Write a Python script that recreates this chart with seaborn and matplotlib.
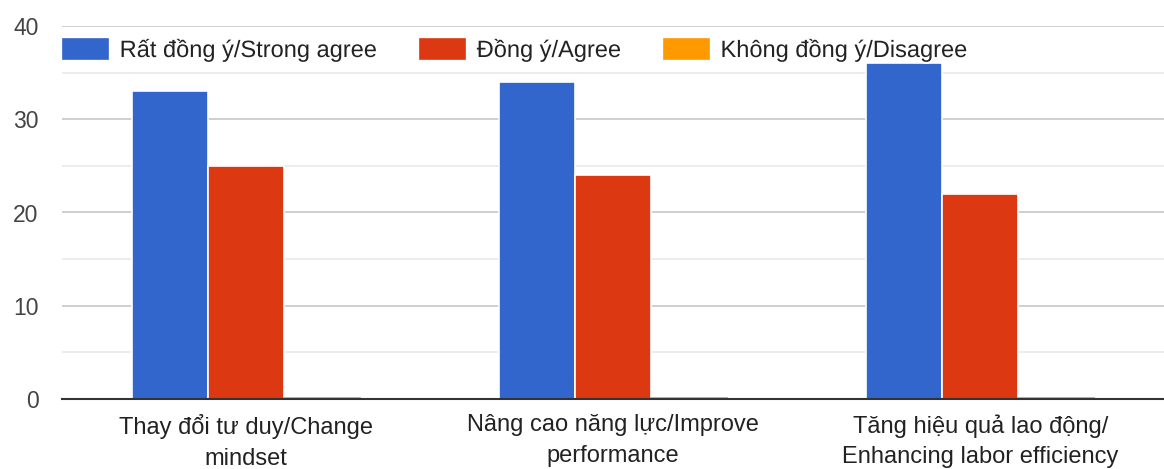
import matplotlib
matplotlib.use("Agg")
import matplotlib.pyplot as plt
import matplotlib.patheffects as pe
import seaborn as sns
import pandas as pd

# Survey responses per statement
categories = [
    "Thay đổi tư duy/Change\nmindset",
    "Nâng cao năng lực/Improve\nperformance",
    "Tăng hiệu quả lao động/\nEnhancing labor efficiency",
]
series_names = ["Rất đồng ý/Strong agree", "Đồng ý/Agree", "Không đồng ý/Disagree"]
strong_agree = [33, 34, 36]
agree = [25, 24, 22]
disagree = [0, 0, 0]
colors = ["#3366CC", "#DC3912", "#FF9900"]
y_ticks = [0, 10, 20, 30, 40]

rows = []
for name, vals in zip(series_names, [strong_agree, agree, disagree]):
    for cat, v in zip(categories, vals):
        rows.append({"category": cat, "response": name, "count": v})
df = pd.DataFrame(rows)

sns.set_theme(style="white")
plt.rcParams["font.family"] = ["Liberation Sans", "DejaVu Sans"]

fig = plt.figure(figsize=(11.64, 4.69), dpi=100)
ax = fig.add_axes([62 / 1164, 70 / 469, 1 - 62 / 1164, 373 / 469])

sns.barplot(
    data=df, x="category", y="count", hue="response",
    order=categories, hue_order=series_names, palette=colors, saturation=1,
    width=0.62, edgecolor="white", linewidth=1.2, ax=ax, zorder=3,
)

# zero-height bars still show as a thin line on the baseline
for p in ax.patches:
    if p.get_height() == 0:
        p.set_height(0.12)
        p.set_edgecolor(p.get_facecolor())

ax.set_ylim(0, 40)
ax.set_xlim(-0.5, 2.5)
ax.set_yticks(y_ticks)
ax.set_yticks([5, 15, 25, 35], minor=True)
ax.grid(axis="y", which="major", color="#cccccc", linewidth=1.3, zorder=0)
ax.grid(axis="y", which="minor", color="#ebebeb", linewidth=1.3, zorder=0)
ax.set_axisbelow(True)
for s in ["top", "right", "left"]:
    ax.spines[s].set_visible(False)
ax.spines["bottom"].set_color("#333333")
ax.spines["bottom"].set_linewidth(1.5)
ax.spines["bottom"].set_zorder(4)
ax.set_xlabel("")
ax.set_ylabel("")
ax.tick_params(axis="y", which="both", length=0, pad=17, labelsize=16.5, labelcolor="#444444")
ax.tick_params(axis="x", length=0, pad=11, labelsize=17, labelcolor="#222222")
for t in ax.get_xticklabels():
    t.set_linespacing(1.5)
for t in ax.get_yticklabels():
    t.set_horizontalalignment("right")

leg = ax.legend(
    loc="upper left", bbox_to_anchor=(63 / 1164, 1 - 38 / 469),
    bbox_transform=fig.transFigure, ncol=3, frameon=False,
    fontsize=17, handlelength=1.9, handleheight=0.9,
    handletextpad=0.5, columnspacing=1.8, borderaxespad=0, borderpad=0,
    labelcolor="#222222",
)
leg.set_zorder(10)
for t in leg.get_texts():
    t.set_path_effects([pe.withStroke(linewidth=3, foreground="white")])

fig.savefig("out.png", dpi=100)
